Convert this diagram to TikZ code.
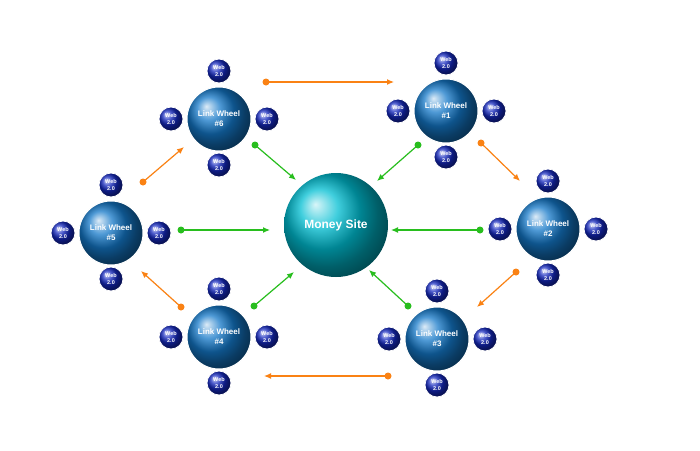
\documentclass[tikz,border=0pt]{standalone}
\usepackage{fontspec}
\setmainfont{Liberation Sans}
\usetikzlibrary{arrows.meta}
\begin{document}
\begin{tikzpicture}[x=1pt,y=-1pt,
 wheel/.style={circle,minimum size=64pt,inner sep=0pt,shading=ball,ball color={rgb,255:red,20;green,120;blue,200},text=white,font=\bfseries\fontsize{8}{10}\selectfont,align=center,draw=white,line width=1pt},
 web/.style={circle,minimum size=24pt,inner sep=0pt,shading=ball,ball color={rgb,255:red,20;green,40;blue,190},text=white,font=\bfseries\fontsize{5.5}{6.5}\selectfont,align=center,draw=white,line width=0.8pt},
 money/.style={circle,minimum size=104pt,inner sep=0pt,shading=ball,ball color={rgb,255:red,0;green,190;blue,210},text=white,font=\bfseries\fontsize{12}{14}\selectfont},
 oarr/.style={draw={rgb,255:red,250;green,130;blue,20},line width=1.2pt,-{Latex[length=7pt,width=6pt]}},
 garr/.style={draw={rgb,255:red,40;green,190;blue,30},line width=1.2pt,-{Latex[length=7pt,width=6pt]}},
 odot/.style={circle,fill={rgb,255:red,250;green,130;blue,20},minimum size=7pt,inner sep=0pt},
 gdot/.style={circle,fill={rgb,255:red,40;green,190;blue,30},minimum size=7pt,inner sep=0pt}]
\useasboundingbox (0,0) rectangle (700,450);
\fill[white] (0,0) rectangle (700,450);
\node[money] (m) at (336,225) {Money Site};
\foreach \n/\x/\y/\lab in {6/219/119/{\#6},1/446/111/{\#1},2/548/229/{\#2},3/437/339/{\#3},4/219/337/{\#4},5/111/233/{\#5}}{
 \node[wheel] (w\n) at (\x,\y) {Link Wheel\\\lab};
 \node[web] (w\n t) at (\x,\y-48) {Web\\2.0};
 \node[web] (w\n l) at (\x-48,\y) {Web\\2.0};
 \node[web] (w\n r) at (\x+48,\y) {Web\\2.0};
 \node[web] (w\n b) at (\x,\y+46) {Web\\2.0};
}
% orange
\foreach \i/\ax/\ay/\bx/\by in {a/266/82/394/82, b/481/143/520/181, c/516/272/477/307, d/388/376/264/376, e/181/307/141/271, f/143/182/184/147}{
 \node[odot] (o\i) at (\ax,\ay) {};
 \coordinate (oe\i) at (\bx,\by);
 \draw[oarr] (o\i.center) -- (oe\i);
}
% green
\foreach \i/\ax/\ay/\bx/\by in {a/255/145/296/180, b/418/145/377/181, c/480/230/391/230, d/408/306/369/270, e/254/306/294/272, f/181/230/270/230}{
 \node[gdot] (g\i) at (\ax,\ay) {};
 \coordinate (ge\i) at (\bx,\by);
 \draw[garr] (g\i.center) -- (ge\i);
}
\end{tikzpicture}
\end{document}
